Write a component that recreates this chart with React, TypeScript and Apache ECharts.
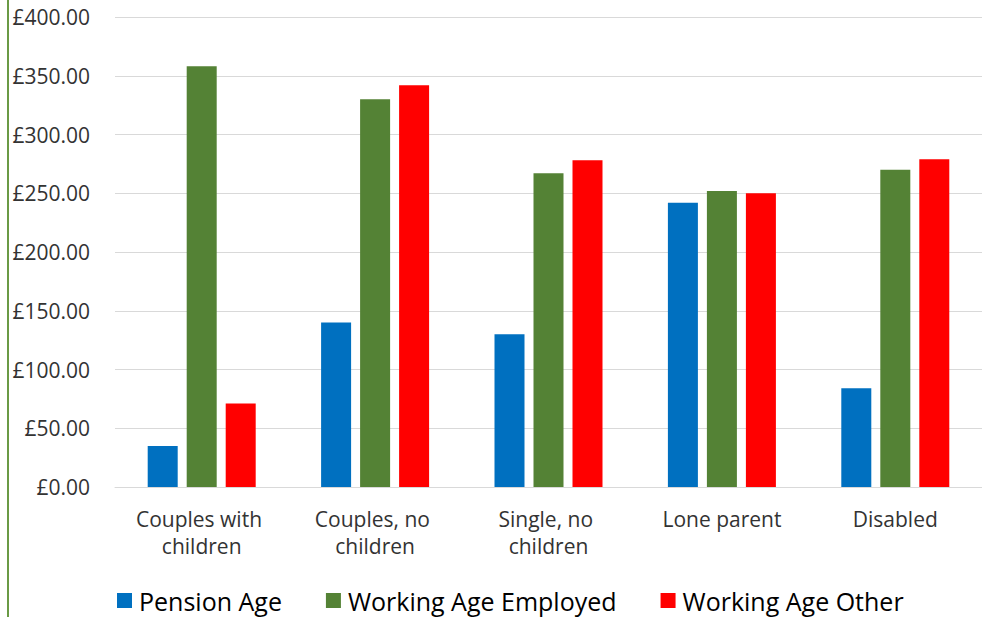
import React, { useEffect, useRef } from "react";
import * as echarts from "echarts";

const categories = ["Couples with children", "Couples, no children", "Single, no children", "Lone parent", "Disabled"];
const pensionAge = [35, 140, 130, 242, 84];
const workingAgeEmployed = [358, 330, 267, 252, 270];
const workingAgeOther = [71, 342, 278, 250, 279];
const seriesNames = ["Pension Age", "Working Age Employed", "Working Age Other"];

const FONT = "'Open Sans', sans-serif";

export default function App() {
  const ref = useRef<HTMLDivElement>(null);
  useEffect(() => {
    if (!ref.current) return;
    const chart = echarts.init(ref.current, null, { renderer: "svg" });
    chart.setOption({
      animation: false,
      backgroundColor: "#ffffff",
      textStyle: { fontFamily: FONT },
      grid: { left: 115, right: 0, top: 17, bottom: 130, containLabel: false },
      legend: {
        left: 112,
        top: 583,
        itemWidth: 15,
        itemHeight: 15,
        itemGap: 44,
        icon: "rect",
        textStyle: { fontSize: 25, color: "#000000", fontFamily: FONT, padding: [0, 0, 0, 2] },
        data: seriesNames,
      },
      xAxis: {
        type: "category",
        data: categories,
        axisTick: { show: false },
        axisLine: { lineStyle: { color: "#d9d9d9", width: 1 } },
        axisLabel: {
          color: "#333333",
          fontSize: 21,
          lineHeight: 27,
          margin: 18,
          width: 140,
          overflow: "break",
          interval: 0,
        },
      },
      yAxis: {
        type: "value",
        min: 0,
        max: 400,
        interval: 50,
        axisLine: { show: false },
        axisTick: { show: false },
        splitLine: { lineStyle: { color: "#d9d9d9", width: 1 } },
        axisLabel: {
          color: "#333333",
          fontSize: 21,
          margin: 25,
          formatter: (v: number) => "£" + v.toFixed(2),
        },
      },
      series: [
        { name: seriesNames[0], type: "bar", data: pensionAge, barWidth: 30, barGap: "30%", itemStyle: { color: "#0070C0" } },
        { name: seriesNames[1], type: "bar", data: workingAgeEmployed, barWidth: 30, barGap: "30%", itemStyle: { color: "#548235" } },
        { name: seriesNames[2], type: "bar", data: workingAgeOther, barWidth: 30, barGap: "30%", itemStyle: { color: "#FF0000" } },
      ],
      graphic: [
        { type: "line", shape: { x1: 8, y1: 0, x2: 8, y2: 617 }, style: { stroke: "#6A9A45", lineWidth: 2 } },
      ],
    });
    return () => chart.dispose();
  }, []);
  return <div ref={ref} style={{ position: "fixed", left: 0, top: 0, width: 982, height: 617 }} />;
}
